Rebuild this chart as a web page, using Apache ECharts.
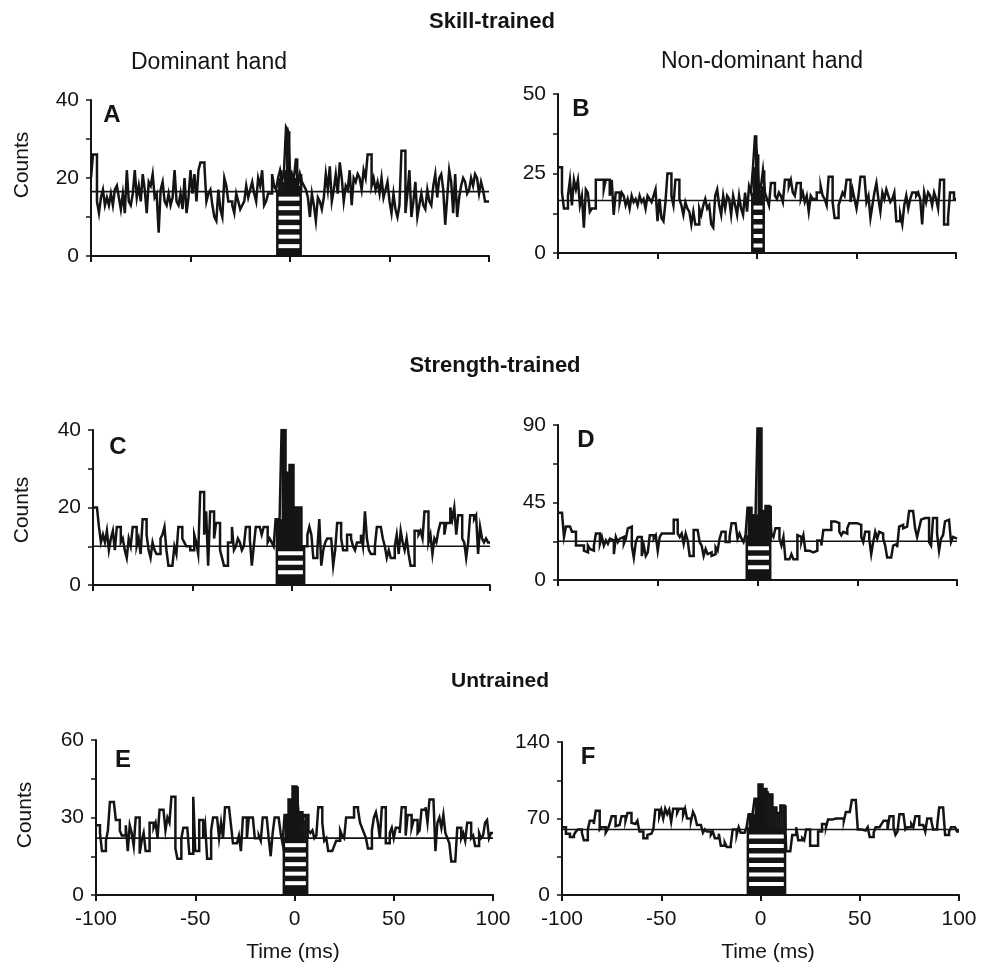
<!DOCTYPE html>
<html><head><meta charset="utf-8">
<script src="https://cdn.jsdelivr.net/npm/echarts@6/dist/echarts.min.js"></script>
<style>html,body{margin:0;padding:0;background:#fff}#c{width:995px;height:966px}</style>
</head><body><div id="c"></div>
<script>
// ---- data ----
const timeTicks = [-100, -50, 0, 50, 100];
const panelLetters = ['A', 'B', 'C', 'D', 'E', 'F'];
const yMax = [40, 50, 40, 90, 60, 140];
const baselines = [16.5, 16.5, 10, 22.5, 22, 60];
const peakWindows = [[-7, 6], [-3, 4], [-8, 7], [-6, 7], [-6, 7], [-7, 13]];
const groupTitles = ['Skill-trained', 'Strength-trained', 'Untrained'];
const handTitles = ['Dominant hand', 'Non-dominant hand'];

// counts per 1-ms bin, t = -100 ... 99
const countsA = [
  20, 26, 26, 14, 11, 15, 17, 13, 15, 13,
  16, 13, 17, 18, 15, 12, 16, 11, 22, 14,
  13, 16, 22, 15, 18, 14, 21, 17, 11, 19,
  18, 21, 15, 16, 6, 17, 19, 14, 13, 16,
  13, 15, 22, 14, 13, 16, 12, 20, 11, 15,
  22, 16, 21, 14, 22, 24, 24, 23, 14, 16,
  17, 13, 10, 9, 17, 12, 10, 20, 18, 14,
  14, 13, 11, 16, 14, 12, 13, 14, 18, 15,
  17, 19, 16, 14, 20, 18, 22, 13, 14, 16,
  16, 21, 18, 17, 20, 22, 19, 22, 33, 32,
  22, 21, 20, 25, 18, 21, 19, 18, 17, 15,
  10, 16, 13, 9, 15, 14, 12, 15, 21, 17,
  23, 14, 17, 21, 16, 24, 20, 14, 18, 17,
  22, 13, 20, 19, 21, 20, 17, 22, 20, 26,
  26, 18, 20, 17, 19, 16, 20, 15, 17, 19,
  14, 11, 16, 12, 10, 13, 27, 27, 11, 16,
  22, 10, 14, 19, 10, 13, 16, 13, 12, 17,
  14, 13, 18, 21, 15, 20, 21, 17, 8, 15,
  22, 19, 11, 21, 10, 15, 18, 20, 19, 16,
  17, 20, 18, 21, 20, 16, 19, 17, 14, 14
];
const countsB = [
  27, 27, 19, 14, 14, 18, 23, 15, 23, 20,
  23, 15, 18, 8, 20, 19, 13, 14, 14, 23,
  23, 23, 23, 20, 23, 23, 18, 23, 12, 19,
  19, 16, 19, 18, 15, 17, 14, 18, 16, 17,
  15, 18, 16, 17, 14, 18, 17, 16, 18, 20,
  10, 17, 11, 10, 16, 25, 25, 18, 15, 23,
  23, 17, 15, 12, 16, 14, 13, 9, 13, 9,
  9, 14, 12, 15, 17, 14, 15, 9, 8, 18,
  20, 15, 12, 18, 14, 18, 17, 12, 18, 15,
  12, 18, 14, 12, 19, 13, 21, 19, 27, 37,
  31, 20, 21, 26, 19, 17, 15, 22, 22, 18,
  17, 19, 18, 16, 23, 23, 21, 23, 19, 18,
  22, 22, 17, 19, 16, 18, 13, 18, 17, 17,
  19, 19, 21, 18, 17, 15, 24, 24, 16, 11,
  11, 15, 17, 19, 18, 23, 23, 16, 20, 17,
  14, 18, 24, 24, 24, 16, 18, 11, 15, 19,
  22, 17, 13, 19, 17, 20, 18, 16, 17, 19,
  10, 10, 12, 9, 15, 18, 14, 17, 19, 19,
  18, 19, 17, 9, 19, 16, 19, 18, 15, 19,
  17, 14, 23, 23, 9, 9, 11, 19, 19, 17
];
const countsC = [
  20, 20, 20, 15, 11, 13, 11, 14, 9, 12,
  14, 9, 15, 15, 11, 12, 9, 7, 12, 10,
  15, 15, 10, 12, 8, 17, 17, 13, 9, 7,
  11, 9, 8, 8, 12, 13, 15, 9, 5, 5,
  5, 10, 8, 15, 15, 12, 11, 10, 10, 9,
  9, 13, 11, 8, 24, 24, 13, 19, 5, 19,
  19, 12, 16, 16, 9, 7, 5, 5, 11, 11,
  15, 9, 10, 12, 11, 9, 10, 15, 15, 12,
  5, 10, 15, 15, 15, 13, 15, 15, 11, 12,
  11, 10, 17, 17, 17, 40, 40, 29, 29, 31,
  31, 20, 20, 20, 20, 8, 10, 10, 13, 15,
  13, 7, 7, 9, 17, 5, 9, 11, 12, 12,
  12, 5, 9, 16, 16, 12, 9, 9, 13, 13,
  12, 10, 9, 11, 11, 13, 10, 19, 12, 9,
  8, 8, 10, 15, 15, 15, 12, 10, 7, 9,
  7, 7, 10, 13, 8, 14, 11, 9, 12, 8,
  5, 5, 14, 14, 13, 14, 12, 19, 19, 11,
  13, 8, 12, 11, 14, 16, 16, 13, 16, 16,
  20, 17, 20, 13, 18, 18, 12, 11, 7, 11,
  18, 18, 17, 18, 8, 15, 12, 11, 12, 11
];
const countsD = [
  39, 39, 39, 25, 31, 31, 31, 28, 28, 20,
  20, 19, 20, 17, 16, 20, 18, 17, 20, 27,
  27, 21, 25, 20, 23, 21, 24, 23, 15, 25,
  22, 24, 25, 21, 24, 30, 31, 20, 13, 22,
  25, 25, 14, 20, 14, 16, 26, 26, 24, 26,
  17, 25, 27, 27, 27, 27, 27, 27, 35, 35,
  27, 25, 27, 21, 27, 23, 14, 14, 29, 29,
  29, 22, 20, 14, 18, 15, 16, 14, 15, 19,
  17, 24, 28, 28, 22, 22, 25, 33, 33, 33,
  24, 27, 24, 22, 26, 42, 42, 38, 37, 38,
  88, 88, 40, 40, 43, 43, 43, 27, 25, 30,
  30, 24, 20, 25, 12, 12, 12, 15, 12, 12,
  26, 25, 22, 26, 17, 17, 17, 16, 17, 17,
  23, 23, 20, 29, 29, 30, 29, 34, 34, 33,
  33, 28, 26, 28, 27, 30, 33, 33, 33, 33,
  33, 32, 25, 22, 28, 28, 24, 15, 22, 28,
  24, 28, 27, 24, 20, 13, 13, 14, 20, 21,
  19, 31, 32, 30, 31, 32, 40, 40, 39, 30,
  25, 30, 35, 36, 35, 36, 22, 20, 36, 36,
  27, 17, 24, 26, 34, 35, 34, 22, 25, 24
];
const countsE = [
  27, 27, 24, 17, 17, 21, 25, 36, 36, 36,
  29, 29, 25, 23, 23, 27, 17, 27, 24, 19,
  30, 30, 16, 21, 24, 17, 17, 28, 28, 26,
  28, 22, 33, 33, 33, 25, 30, 28, 38, 38,
  18, 14, 14, 22, 26, 26, 26, 16, 16, 38,
  17, 17, 29, 29, 22, 27, 14, 14, 25, 30,
  30, 30, 22, 28, 22, 34, 34, 34, 27, 20,
  20, 20, 23, 17, 30, 30, 22, 30, 30, 30,
  22, 22, 23, 21, 30, 30, 30, 22, 15, 24,
  30, 30, 30, 24, 20, 31, 31, 37, 37, 42,
  42, 42, 32, 32, 29, 31, 31, 25, 24, 25,
  22, 23, 34, 34, 28, 21, 22, 17, 17, 17,
  19, 21, 21, 25, 23, 22, 30, 30, 30, 30,
  34, 34, 33, 28, 26, 24, 22, 18, 18, 25,
  30, 32, 28, 22, 34, 34, 20, 20, 24, 26,
  22, 26, 26, 24, 34, 34, 23, 31, 31, 26,
  29, 29, 24, 25, 33, 33, 34, 28, 37, 37,
  37, 17, 28, 30, 26, 31, 24, 22, 20, 13,
  13, 13, 26, 26, 22, 24, 21, 28, 28, 22,
  23, 19, 19, 24, 22, 23, 28, 29, 22, 24
];
const countsF = [
  62, 62, 56, 56, 53, 53, 55, 58, 60, 60,
  57, 50, 50, 60, 68, 68, 65, 77, 77, 60,
  62, 62, 57, 60, 65, 72, 72, 63, 64, 63,
  72, 72, 68, 75, 75, 66, 65, 65, 68, 58,
  58, 52, 52, 55, 56, 56, 60, 78, 78, 72,
  78, 70, 79, 74, 78, 67, 79, 79, 75, 79,
  79, 73, 79, 70, 70, 68, 76, 72, 64, 64,
  64, 57, 60, 58, 58, 55, 58, 52, 52, 56,
  45, 45, 48, 44, 44, 46, 60, 60, 55, 62,
  57, 57, 57, 62, 74, 74, 74, 88, 88, 101,
  101, 97, 97, 95, 92, 92, 80, 80, 75, 75,
  82, 82, 82, 40, 40, 40, 55, 55, 62, 50,
  50, 52, 50, 60, 60, 45, 45, 45, 45, 58,
  58, 65, 65, 62, 69, 69, 70, 70, 70, 70,
  70, 70, 68, 76, 76, 76, 87, 87, 87, 60,
  60, 60, 59, 59, 62, 53, 53, 57, 62, 62,
  62, 65, 68, 68, 60, 72, 72, 62, 55, 58,
  74, 74, 74, 60, 62, 62, 65, 62, 72, 72,
  64, 64, 64, 58, 70, 70, 68, 60, 60, 63,
  80, 80, 80, 55, 55, 58, 62, 62, 62, 58
];
const allCounts = [countsA, countsB, countsC, countsD, countsE, countsF];

// ---- layout / style ----
const FONT = '"Liberation Sans", Arial, Helvetica, sans-serif';
const INK = '#141414';
const grids = [
  {left: 91, top: 100, width: 398, height: 156},
  {left: 558, top: 94, width: 398, height: 159},
  {left: 93, top: 430, width: 397, height: 155},
  {left: 558, top: 425, width: 399, height: 155},
  {left: 96, top: 740, width: 397, height: 155},
  {left: 562, top: 742, width: 397, height: 153}
];
const tMin = timeTicks[0], tMax = timeTicks[timeTicks.length - 1];

const xAxes = [], yAxes = [], series = [];
grids.forEach((g, i) => {
  const bottomRow = i >= 4;
  xAxes.push({
    gridIndex: i, type: 'value', min: tMin, max: tMax, interval: timeTicks[1] - timeTicks[0],
    axisLine: {show: true, onZero: false, lineStyle: {color: INK, width: 2}},
    axisTick: {show: true, length: 6, lineStyle: {color: INK, width: 2}},
    axisLabel: {show: bottomRow, color: INK, fontSize: 21, fontFamily: FONT, margin: 14},
    splitLine: {show: false}
  });
  const M = yMax[i];
  yAxes.push({
    gridIndex: i, type: 'value', min: 0, max: M, interval: M / 4,
    axisLine: {show: true, onZero: false, lineStyle: {color: INK, width: 2}},
    axisTick: {show: true, length: 5, lineStyle: {color: INK, width: 1.5}},
    axisLabel: {show: true, color: INK, fontSize: 21, fontFamily: FONT, margin: 12,
      formatter: v => (Math.abs(v % (M / 2)) < 1e-9 ? String(v) : '')},
    splitLine: {show: false}
  });
  const counts = allCounts[i];
  // step outline: each bin contributes its left and right edge at the bin's count
  const lineData = [];
  counts.forEach((v, k) => {
    lineData.push([tMin + k, v]);
    lineData.push([tMin + k + 1, v]);
  });
  const b = baselines[i];
  const w = peakWindows[i];
  const fillData = [];
  counts.forEach((v, k) => {
    const t = tMin + k;
    if (t >= w[0] && t < w[1]) fillData.push([t, v, b]);
  });
  series.push({
    type: 'line', xAxisIndex: i, yAxisIndex: i, data: lineData,
    showSymbol: false, symbol: 'none', lineStyle: {color: INK, width: 2.5, join: 'miter', cap: 'butt'}, z: 2, silent: true
  });
  series.push({
    type: 'custom', xAxisIndex: i, yAxisIndex: i, data: fillData, z: 3, silent: true,
    encode: {x: 0, y: [1, 2]},
    renderItem: (params, api) => {
      const t = api.value(0), v = api.value(1), base = api.value(2);
      const p0 = api.coord([t, base]), p1 = api.coord([t + 1, v]);
      return {type: 'rect', shape: {x: p0[0], y: Math.min(p0[1], p1[1]), width: p1[0] - p0[0] + 0.5, height: Math.abs(p1[1] - p0[1])}, style: {fill: INK}};
    }
  });
  series.push({
    type: 'custom', xAxisIndex: i, yAxisIndex: i, data: [[w[0], w[1], b]], z: 4, silent: true,
    encode: {x: [0, 1], y: 2},
    renderItem: (params, api) => {
      const x0 = api.value(0), x1 = api.value(1), base = api.value(2);
      const tl = api.coord([x0, base]), br = api.coord([x1, 0]);
      const children = [{type: 'rect', shape: {x: tl[0], y: tl[1], width: br[0] - tl[0], height: br[1] - tl[1]}, style: {fill: INK}}];
      const pitch = 9.5, white = 4;
      for (let y = tl[1] + 5; y + white <= br[1] - 3; y += pitch) {
        children.push({type: 'rect', shape: {x: tl[0] + 2.5, y: y, width: br[0] - tl[0] - 5, height: white}, style: {fill: '#fff'}});
      }
      return {type: 'group', children: children};
    }
  });
  series.push({
    type: 'line', xAxisIndex: i, yAxisIndex: i, data: [[tMin, b], [tMax, b]],
    showSymbol: false, symbol: 'none', lineStyle: {color: INK, width: 1.6}, z: 5, silent: true
  });
});

const txt = (text, x, y, size, bold, rot) => ({
  type: 'text', x: x, y: y, rotation: rot || 0, silent: true,
  style: {text: text, fill: INK, font: (bold ? 'bold ' : '') + size + 'px ' + FONT,
    textAlign: 'center', textVerticalAlign: 'middle', align: 'center', verticalAlign: 'middle'}
});
const letterPos = [[112, 115], [581, 109], [118, 447], [586, 440], [123, 760], [588, 757]];
const graphics = [
  txt(groupTitles[0], 492, 22, 22, true),
  txt(handTitles[0], 209, 63, 23, false),
  txt(handTitles[1], 762, 62, 23, false),
  txt(groupTitles[1], 495, 366, 22, true),
  txt(groupTitles[2], 500, 681, 21, true),
  txt('Counts', 22, 165, 21, false, Math.PI / 2),
  txt('Counts', 22, 510, 21, false, Math.PI / 2),
  txt('Counts', 25, 815, 21, false, Math.PI / 2),
  txt('Time (ms)', 293, 952, 21, false),
  txt('Time (ms)', 768, 952, 21, false)
];
panelLetters.forEach((L, i) => graphics.push(txt(L, letterPos[i][0], letterPos[i][1], 24, true)));

const chart = echarts.init(document.getElementById('c'), null, {renderer: 'canvas'});
chart.setOption({
  animation: false,
  backgroundColor: '#fff',
  grid: grids,
  xAxis: xAxes,
  yAxis: yAxes,
  series: series,
  graphic: graphics
});
</script>
</body></html>
